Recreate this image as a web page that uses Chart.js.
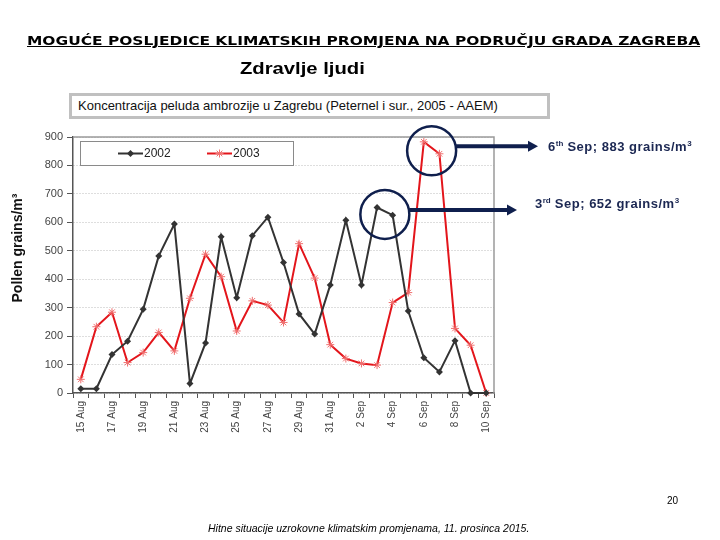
<!DOCTYPE html>
<html>
<head>
<meta charset="utf-8">
<script src="https://cdn.jsdelivr.net/npm/chart.js@4.4.1/dist/chart.umd.min.js"></script>
<style>
  html, body { margin: 0; padding: 0; background: #fff; }
  #page { position: relative; width: 720px; height: 540px; overflow: hidden; font-family: "Liberation Sans", Arial, sans-serif; }
  #chart { position: absolute; left: 0; top: 0; }
  .txt { position: absolute; white-space: nowrap; z-index: 2; }
  #title { left: 27px; top: 33px; font: bold 13px "DejaVu Sans Condensed", "DejaVu Sans", sans-serif; text-decoration: underline; transform-origin: left top; color: #000; }
  #sub { left: 240px; top: 59px; font: bold 17px "Liberation Sans Narrow", "Liberation Sans", sans-serif; transform-origin: left top; color: #000; }
  #box { position: absolute; left: 69px; top: 93px; width: 469px; height: 20px; border: 3px solid #c0c0c0; background: #fff; z-index: 2;
         font: 13px "Liberation Sans", Arial, sans-serif; line-height: 20px; padding-left: 6px; color: #111; box-sizing: content-box; }
  #ytitle { left: -43px; top: 240px; width: 120px; text-align: center; font: bold 14px "Liberation Sans", Arial, sans-serif; transform: rotate(-90deg); color: #111; }
  .note { font: bold 13px "Liberation Sans", Arial, sans-serif; letter-spacing: 0.5px; color: #1b2752; }
  .note sup { font-size: 8px; letter-spacing: 0; }
  #pnum { left: 667px; top: 495px; font: 10px "Liberation Sans", Arial, sans-serif; }
  #foot { left: 208px; top: 522px; font: italic 10.5px "Liberation Sans", Arial, sans-serif; }
</style>
</head>
<body>
<div id="page">
  <canvas id="chart" width="720" height="540"></canvas>
  <div class="txt" id="title">MOGUĆE POSLJEDICE KLIMATSKIH PROMJENA NA PODRUČJU GRADA ZAGREBA</div>
  <div class="txt" id="sub">Zdravlje ljudi</div>
  <div id="box">Koncentracija peluda ambrozije u Zagrebu (Peternel i sur., 2005 - AAEM)</div>
  <div class="txt" id="ytitle">Pollen grains/m³</div>
  <div class="txt note" style="left:548px; top:139px">6<sup>th</sup> Sep; 883 grains/m<sup>3</sup></div>
  <div class="txt note" style="left:535px; top:196px">3<sup>rd</sup> Sep; 652 grains/m<sup>3</sup></div>
  <div class="txt" id="pnum">20</div>
  <div class="txt" id="foot">Hitne situacije uzrokovne klimatskim promjenama, 11. prosinca 2015.</div>
</div>
<script>
// days 15 Aug .. 10 Sep
const days = ['15 Aug','16 Aug','17 Aug','18 Aug','19 Aug','20 Aug','21 Aug','22 Aug','23 Aug','24 Aug',
  '25 Aug','26 Aug','27 Aug','28 Aug','29 Aug','30 Aug','31 Aug','1 Sep','2 Sep','3 Sep',
  '4 Sep','5 Sep','6 Sep','7 Sep','8 Sep','9 Sep','10 Sep']

const pollen2002 = [15,15,135,182,294,482,594,33,176,549,335,553,618,459,278,207,380,607,380,652,625,288,124,74,184,0,0]
const pollen2003 = [48,233,284,107,142,213,148,333,488,409,218,324,309,248,525,404,170,121,104,98,318,353,883,841,227,168,0]

const yTicks = [0,100,200,300,400,500,600,700,800,900]

// circled peaks: dataset, first and second day index
const peaks = [
  { ds: 1, a: 22, b: 23, tipX: 538 },
  { ds: 0, a: 19, b: 20, tipX: 517 }
]

const navy = '#0f1f4d'

// fit the page title to the width it has in the slide
function fitWidth(id, w) {
  const el = document.getElementById(id)
  el.style.transform = 'scaleX(' + (w / el.offsetWidth) + ')'
}
fitWidth('title', 673)
fitWidth('sub', 125)

const frameAndLegend = {
  id: 'frameAndLegend',
  beforeDatasetsDraw(chart) {
    const { ctx, chartArea: a } = chart
    ctx.save()
    ctx.strokeStyle = '#9a9a9a'
    ctx.lineWidth = 1.5
    ctx.beginPath()
    ctx.moveTo(a.left, a.top)
    ctx.lineTo(a.right, a.top)
    ctx.lineTo(a.right, a.bottom)
    ctx.stroke()
    ctx.restore()
  },
  afterDatasetsDraw(chart) {
    const { ctx, chartArea: a } = chart
    const x0 = a.left + 7, y0 = a.top + 4, w = 213, h = 24
    ctx.save()
    ctx.fillStyle = '#fff'
    ctx.fillRect(x0, y0, w, h)
    ctx.strokeStyle = '#8a8a8a'
    ctx.lineWidth = 1
    ctx.strokeRect(x0 + 0.5, y0 + 0.5, w, h)
    const cy = y0 + h / 2 + 0.5
    chart.data.datasets.forEach((ds, i) => {
      const lx = x0 + 38 + i * 89
      ctx.strokeStyle = ds.borderColor
      ctx.lineWidth = 2
      ctx.beginPath()
      ctx.moveTo(lx, cy)
      ctx.lineTo(lx + 25, cy)
      ctx.stroke()
      const mx = lx + 12.5, r = ds.pointRadius
      if (ds.pointStyle === 'rectRot') {
        ctx.fillStyle = ds.pointBackgroundColor
        ctx.beginPath()
        ctx.moveTo(mx, cy - r); ctx.lineTo(mx + r, cy); ctx.lineTo(mx, cy + r); ctx.lineTo(mx - r, cy)
        ctx.closePath()
        ctx.fill()
      } else {
        ctx.strokeStyle = ds.pointBorderColor
        ctx.lineWidth = 1
        ctx.beginPath()
        for (let k = 0; k < 4; k++) {
          const t = k * Math.PI / 4
          ctx.moveTo(mx - r * Math.cos(t), cy - r * Math.sin(t))
          ctx.lineTo(mx + r * Math.cos(t), cy + r * Math.sin(t))
        }
        ctx.stroke()
      }
      ctx.fillStyle = '#222'
      ctx.font = '12px "Liberation Sans", Arial, sans-serif'
      ctx.textBaseline = 'middle'
      ctx.fillText(ds.label, lx + 26, cy)
    })
    ctx.restore()
  }
}

const circles = {
  id: 'circles',
  afterDatasetsDraw(chart) {
    const { ctx } = chart
    const xs = chart.scales.x, ys = chart.scales.y
    ctx.save()
    peaks.forEach(p => {
      const vals = chart.data.datasets[p.ds].data
      const cx = (xs.getPixelForValue(p.a) + xs.getPixelForValue(p.b)) / 2
      const cy = (ys.getPixelForValue(vals[p.a]) + ys.getPixelForValue(vals[p.b])) / 2 + 3
      const r = 24.5
      ctx.strokeStyle = navy
      ctx.lineWidth = 2.5
      ctx.beginPath()
      ctx.arc(cx, cy, r, 0, Math.PI * 2)
      ctx.stroke()
      const ay = cy - 4.5
      ctx.lineWidth = 4
      ctx.beginPath()
      ctx.moveTo(cx + r, ay)
      ctx.lineTo(p.tipX - 9, ay)
      ctx.stroke()
      ctx.fillStyle = navy
      ctx.beginPath()
      ctx.moveTo(p.tipX, ay)
      ctx.lineTo(p.tipX - 10, ay - 5.5)
      ctx.lineTo(p.tipX - 10, ay + 5.5)
      ctx.closePath()
      ctx.fill()
    })
    ctx.restore()
  }
}

new Chart(document.getElementById('chart'), {
  type: 'line',
  data: {
    labels: days,
    datasets: [
      {
        label: '2002',
        data: pollen2002,
        borderColor: '#333333',
        borderWidth: 2,
        pointStyle: 'rectRot',
        pointRadius: 3.5,
        pointBackgroundColor: '#333333',
        pointBorderColor: '#333333',
        pointBorderWidth: 0,
        tension: 0,
        clip: false
      },
      {
        label: '2003',
        data: pollen2003,
        borderColor: '#e3151b',
        borderWidth: 2,
        pointStyle: 'star',
        pointRadius: 4,
        pointBackgroundColor: '#f07070',
        pointBorderColor: '#f07070',
        pointBorderWidth: 1,
        tension: 0,
        clip: false
      }
    ]
  },
  options: {
    responsive: false,
    animation: false,
    events: [],
    layout: { padding: { left: 0, top: 137, right: 226, bottom: 0 } },
    plugins: { legend: { display: false }, tooltip: { enabled: false } },
    scales: {
      x: {
        offset: true,
        afterFit: s => { s.height = 147 },
        grid: { offset: true, drawOnChartArea: false, tickLength: 5, tickColor: '#555', tickWidth: 1 },
        border: { color: '#555', width: 1.5 },
        ticks: {
          autoSkip: false,
          maxRotation: 90,
          minRotation: 90,
          padding: 3,
          color: '#444',
          font: { family: '"Liberation Sans", Arial, sans-serif', size: 10 },
          callback: (v, i) => i % 2 === 0 ? days[i] : ''
        }
      },
      y: {
        min: 0,
        max: 900,
        afterFit: s => { s.width = 73 },
        afterBuildTicks: s => { s.ticks = yTicks.map(v => ({ value: v })) },
        grid: { color: '#bdbdbd', lineWidth: 1, tickLength: 6, tickColor: '#555' },
        border: { color: '#555', width: 1.5, dash: [1, 2] },
        ticks: {
          padding: 4,
          color: '#444',
          font: { family: '"Liberation Sans", Arial, sans-serif', size: 11 }
        }
      }
    }
  },
  plugins: [frameAndLegend, circles]
})
</script>
</body>
</html>
